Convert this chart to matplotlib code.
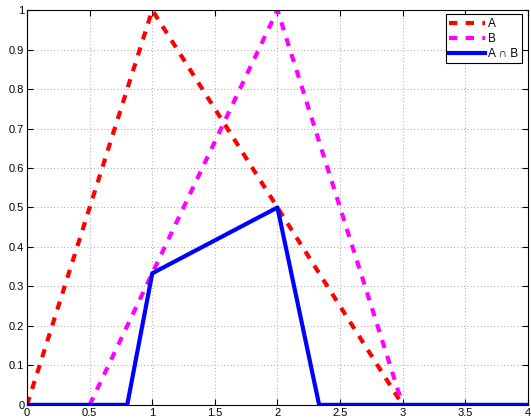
import matplotlib.pyplot as plt

# fuzzy set A, B and their intersection
a_x = [0, 1, 3]
a_y = [0, 1, 0]
b_x = [0.5, 2, 3]
b_y = [0, 1, 0]
ab_x = [0, 0.8, 1, 2, 2.333, 4]
ab_y = [0, 0, 0.3333, 0.5, 0, 0]

plt.rcParams['font.family'] = ['Liberation Sans', 'DejaVu Sans']

fig = plt.figure(figsize=(5.31, 4.20), dpi=100)
ax = fig.add_axes([0.051, 0.036, 0.943, 0.940])

ax.plot(a_x, a_y, color='#ff0000', linestyle=(0, (2, 2)), linewidth=3, label='A')
ax.plot(b_x, b_y, color='#ff00ff', linestyle=(0, (2, 2)), linewidth=3, label='B')
ax.plot(ab_x, ab_y, color='#0000ff', linewidth=3, label='A \u2229 B')

ax.set_xlim(0, 4)
ax.set_ylim(0, 1)
ax.set_xticks([0, 0.5, 1, 1.5, 2, 2.5, 3, 3.5, 4])
ax.set_xticklabels(['0', '0.5', '1', '1.5', '2', '2.5', '3', '3.5', '4'])
ax.set_yticks([i / 10 for i in range(11)])
ax.set_yticklabels(['0'] + ['0.%d' % i for i in range(1, 10)] + ['1'])
ax.tick_params(direction='in', top=True, right=True, labelsize=8, length=4, pad=2)
ax.grid(True, linestyle=(0, (1, 3)), color='#888888', linewidth=0.6)

leg = ax.legend(loc='upper right', bbox_to_anchor=(0.988, 0.989), fontsize=8.5,
                fancybox=False, framealpha=1, edgecolor='black',
                handlelength=3.0, borderaxespad=0, borderpad=0.3,
                labelspacing=0.25, handletextpad=0.3)
leg.get_frame().set_linewidth(0.8)

for s in ax.spines.values():
    s.set_linewidth(0.8)

fig.savefig('out.png', dpi=100)
